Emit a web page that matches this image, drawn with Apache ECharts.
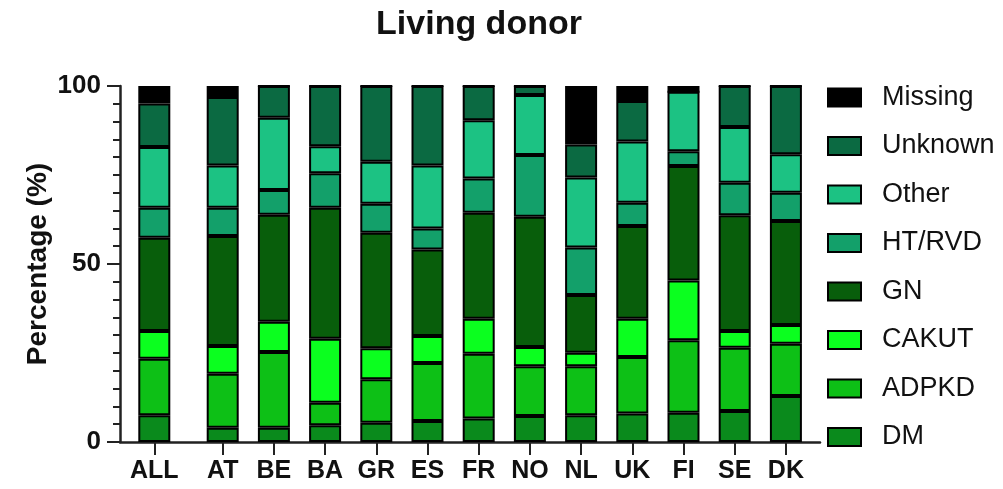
<!DOCTYPE html>
<html>
<head>
<meta charset="utf-8">
<script src="https://cdn.jsdelivr.net/npm/echarts@6/dist/echarts.min.js"></script>
<style>html,body{margin:0;padding:0;background:#fff;}#c{width:1003px;height:489px;}</style>
</head>
<body>
<div id="c"></div>
<script>
// Categories
const allCategory = ['ALL'];
const countries = ['AT','BE','BA','GR','ES','FR','NO','NL','UK','FI','SE','DK'];
const yTicks = [0, 50, 100];

// Series values (%), order: ALL, then countries
const DM      = [7.5, 4.0, 4.0, 4.7, 5.4, 5.9, 6.6, 7.3, 7.5, 8.0, 8.2, 8.7, 12.9];
const ADPKD   = [15.9,15.2,21.3, 6.3,12.2,16.3,18.2,14.0,13.8,15.9,20.4,17.8,14.7];
const CAKUT   = [7.8, 7.8, 8.5,18.0, 8.7, 7.6, 9.8, 5.4, 3.8,10.7,16.8, 4.7, 5.3];
const GN      = [26.2,30.9,30.0,36.8,32.5,24.3,29.8,36.6,16.2,26.1,32.1,32.5,29.2];
const HTRVD   = [8.4, 7.9, 7.0, 9.7, 8.1, 5.9, 9.6,17.3,13.3, 6.5, 4.2, 9.1, 7.9];
const Other   = [17.1,11.9,20.3, 7.6,11.8,17.7,16.4,16.9,19.7,17.2,16.7,15.7,10.8];
const Unknown = [12.2,19.2, 8.9,16.9,21.3,22.3, 9.6, 2.5, 9.3,11.4, 0.0,11.5,19.2];
const Missing = [4.9, 3.1, 0.0, 0.0, 0.0, 0.0, 0.0, 0.0,16.4, 4.2, 1.6, 0.0, 0.0];

const seriesDefs = [
  {name:'DM', data:DM, color:'#0a8a1c'},
  {name:'ADPKD', data:ADPKD, color:'#0dc016'},
  {name:'CAKUT', data:CAKUT, color:'#0bff1f'},
  {name:'GN', data:GN, color:'#085e0b'},
  {name:'HT/RVD', data:HTRVD, color:'#13a06a'},
  {name:'Other', data:Other, color:'#1cc283'},
  {name:'Unknown', data:Unknown, color:'#0b6a42'},
  {name:'Missing', data:Missing, color:'#000000'}
];

const FONT = '"Liberation Sans", Arial, Helvetica, sans-serif';
const axisColor = '#222';

const series = [];
seriesDefs.forEach(s => {
  series.push({
    name: s.name, type:'bar', stack:'a', xAxisIndex:0, yAxisIndex:0,
    barWidth:32, data:[s.data[0]],
    itemStyle:{color:s.color, borderColor:'#000', borderWidth:2}
  });
  series.push({
    name: s.name, type:'bar', stack:'b', xAxisIndex:1, yAxisIndex:1,
    barWidth:32, data:s.data.slice(1),
    itemStyle:{color:s.color, borderColor:'#000', borderWidth:2}
  });
});

const chart = echarts.init(document.getElementById('c'), null, {renderer:'canvas'});
chart.setOption({
  animation:false,
  backgroundColor:'#fff',
  textStyle:{fontFamily:FONT},
  title:{
    text:'Living donor', left:474, top:3, textAlign:'center',
    textStyle:{fontFamily:FONT, fontWeight:'bold', fontSize:34, color:'#111'}
  },
  legend:{
    orient:'vertical', left:822, top:79,
    icon:'rect',
    itemWidth:33, itemHeight:18, itemGap:21.5,
    data:['Missing','Unknown','Other','HT/RVD','GN','CAKUT','ADPKD','DM'],
    itemStyle:{borderColor:'#000', borderWidth:2},
    textStyle:{fontFamily:FONT, fontSize:27, color:'#111', lineHeight:27, padding:[0,0,0,16]}
  },
  grid:[
    {left:120, width:68.6, top:86, height:356},
    {left:197.1, width:614.4, top:86, height:356},
    {left:120, width:700, top:86, height:356}
  ],
  xAxis:[
    {type:'category', gridIndex:0, data:allCategory,
     axisLine:{show:false},
     axisTick:{show:true, alignWithLabel:true, length:13, lineStyle:{color:axisColor, width:2}},
     axisLabel:{fontFamily:FONT, fontWeight:'bold', fontSize:25, color:'#111', margin:17}},
    {type:'category', gridIndex:1, data:countries,
     axisLine:{show:false},
     axisTick:{show:true, alignWithLabel:true, length:13, lineStyle:{color:axisColor, width:2}},
     axisLabel:{fontFamily:FONT, fontWeight:'bold', fontSize:25, color:'#111', margin:17}},
    {type:'value', gridIndex:2, min:0, max:1,
     axisLine:{show:true, lineStyle:{color:axisColor, width:2.5}},
     axisTick:{show:false}, axisLabel:{show:false}, splitLine:{show:false}}
  ],
  yAxis:[
    {type:'value', gridIndex:0, min:yTicks[0], max:yTicks[yTicks.length-1], interval:50,
     name:'Percentage (%)', nameLocation:'middle', nameRotate:90, nameGap:68,
     nameTextStyle:{fontFamily:FONT, fontWeight:'bold', fontSize:28, color:'#111'},
     axisLine:{show:true, lineStyle:{color:axisColor, width:2.5}},
     axisTick:{show:true, length:13, lineStyle:{color:axisColor, width:2}},
     minorTick:{show:true, splitNumber:10, length:7, lineStyle:{color:axisColor, width:2}},
     axisLabel:{fontFamily:FONT, fontWeight:'bold', fontSize:26, color:'#111', margin:19},
     splitLine:{show:false}},
    {type:'value', gridIndex:1, min:0, max:100, interval:50, show:false, splitLine:{show:false}},
    {type:'value', gridIndex:2, min:0, max:100, show:false, splitLine:{show:false}}
  ],
  series: series
});
</script>
</body>
</html>
